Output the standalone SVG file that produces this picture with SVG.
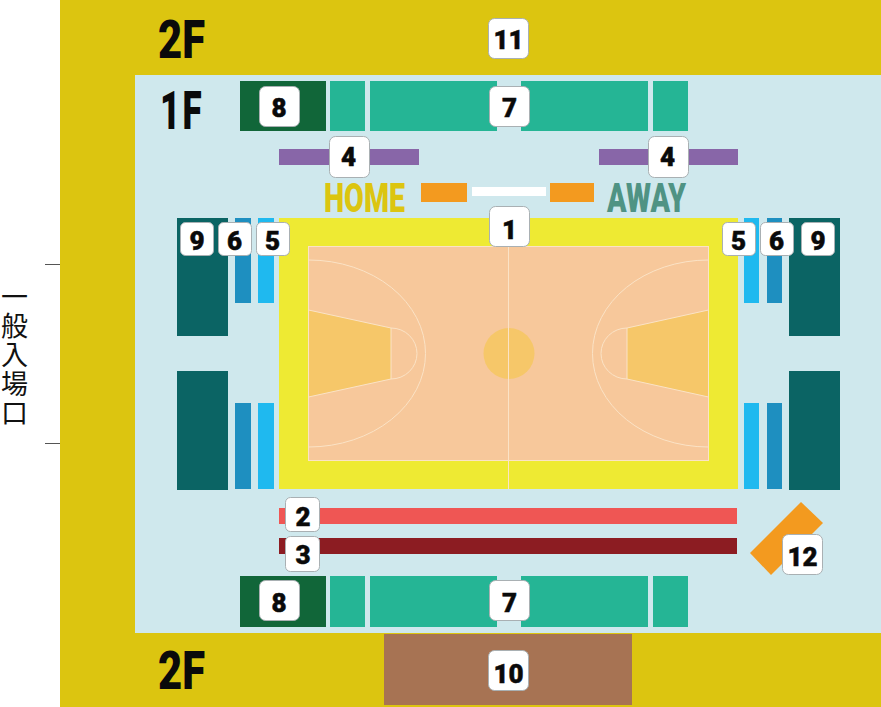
<svg xmlns="http://www.w3.org/2000/svg" width="881" height="707" viewBox="0 0 881 707">
<style>
.b{fill:#fff;stroke:#a9b0b3;stroke-width:1}
.n{font-family:"Roboto","Liberation Sans",sans-serif;font-weight:900;fill:#0a0a0a;stroke:#0a0a0a;stroke-width:.5;text-anchor:middle;font-size:26px}
.f{font-family:"Roboto","Liberation Sans",sans-serif;font-weight:900;fill:#0a0a0a;font-size:53px}
.t{fill:#25b595}.d{fill:#116639}.p{fill:#8866a8}.o{fill:#f39a1f}.s{fill:#0b6464}.c{fill:#1e8fc0}.l{fill:#1fb9ef}
.m{fill:none;stroke:#fbe3c6;stroke-width:1}
.j{font-family:"Noto Sans CJK JP",sans-serif;font-size:27px;fill:#111;writing-mode:vertical-rl;letter-spacing:2px}
</style>
<rect id="floor2" x="60" y="0" width="821" height="707" fill="#dcc510"/>
<rect id="floor1" x="135" y="75" width="746" height="558" fill="#cfe8ed"/>
<g id="entrance-marks" stroke="#555" stroke-width="1"><path d="M45 264.500H60M45 443.500H60"/></g>
<text id="entrance" class="j" x="14.500" y="283.500">一般入場口</text>
<g id="seats-top">
<rect class="d" x="240" y="81" width="86" height="50"/><rect class="t" x="330" y="81" width="35" height="50"/><rect class="t" x="370" y="81" width="127" height="50"/><rect class="t" x="521" y="81" width="127" height="50"/><rect class="t" x="653" y="81" width="35" height="50"/>
</g>
<g id="seats-bottom">
<rect class="d" x="240" y="576" width="86" height="51"/><rect class="t" x="330" y="576" width="35" height="51"/><rect class="t" x="370" y="576" width="127" height="51"/><rect class="t" x="521" y="576" width="127" height="51"/><rect class="t" x="653" y="576" width="35" height="51"/>
</g>
<g id="purple"><rect class="p" x="279" y="149" width="140" height="16"/><rect class="p" x="599" y="149" width="139" height="16"/></g>
<g id="bench"><rect class="o" x="421" y="183" width="46" height="19"/><rect x="472" y="187" width="74" height="9" fill="#fff"/><rect class="o" x="550" y="183" width="44" height="19"/></g>
<text id="home" x="324" y="212" font-family="'Roboto',sans-serif" font-weight="900" font-size="41" fill="#dcc510" textLength="81" lengthAdjust="spacingAndGlyphs">HOME</text>
<text id="away" x="607" y="212" font-family="'Roboto',sans-serif" font-weight="900" font-size="41" fill="#4f9384" textLength="79" lengthAdjust="spacingAndGlyphs">AWAY</text>
<g id="side-left"><rect class="s" x="177" y="218" width="51" height="118"/><rect class="s" x="177" y="371" width="51" height="119"/><rect class="c" x="235" y="218" width="16" height="85"/><rect class="c" x="235" y="403" width="16" height="86"/><rect class="l" x="258" y="218" width="16" height="85"/><rect class="l" x="258" y="403" width="16" height="86"/></g>
<g id="side-right"><rect class="l" x="744" y="218" width="15" height="85"/><rect class="l" x="744" y="403" width="15" height="86"/><rect class="c" x="767" y="218" width="15" height="85"/><rect class="c" x="767" y="403" width="15" height="86"/><rect class="s" x="789" y="218" width="51" height="118"/><rect class="s" x="789" y="371" width="51" height="119"/></g>
<g id="court">
<rect x="279" y="218" width="459" height="271" fill="#eeea33"/>
<rect x="308.500" y="246.500" width="400" height="214" fill="#f7c89b" stroke="#fbe3c6"/>
<path d="M308.500 310L391 328V379L308.500 397Z" fill="#f6c769" stroke="#fbe3c6"/>
<path d="M627 328L708.500 310V397L627 379Z" fill="#f6c769" stroke="#fbe3c6"/>
<circle cx="509" cy="353.500" r="25.500" fill="#f6c769"/>
<path class="m" d="M508.500 218V489"/>
<path class="m" d="M391 328A26 25.500 0 0 1 391 379"/>
<path class="m" d="M627 328A26 25.500 0 0 0 627 379"/>
<path class="m" d="M308.500 260A117 93.500 0 0 1 308.500 447"/>
<path class="m" d="M708.500 260A116 93.500 0 0 0 708.500 447"/>
</g>
<g id="bars"><rect x="279" y="508" width="458" height="16" fill="#ef5654"/><rect x="279" y="538" width="458" height="16" fill="#8c1c22"/></g>
<polygon id="zone12" class="o" points="801,502 823,523 771,575 750,553"/>
<rect id="zone10" x="384" y="634" width="248" height="71" fill="#a77353"/>
<text id="label-2f-top" class="f" x="158" y="58" textLength="47" lengthAdjust="spacingAndGlyphs">2F</text>
<text id="label-1f" class="f" transform="translate(160 129) scale(.66 1)" x="0 34" y="0">1F</text>
<text id="label-2f-bottom" class="f" x="158" y="689" textLength="47" lengthAdjust="spacingAndGlyphs">2F</text>
<g id="n11"><rect class="b" x="488.500" y="18.500" width="40" height="40" rx="6"/><text class="n" x="508.500" y="49">11</text></g>
<g id="n8a"><rect class="b" x="259.500" y="86.500" width="40" height="40" rx="6"/><text class="n" x="279" y="117">8</text></g>
<g id="n7a"><rect class="b" x="489.500" y="86.500" width="40" height="40" rx="6"/><text class="n" x="509.500" y="117">7</text></g>
<g id="n4a"><rect class="b" x="329.500" y="136.500" width="40" height="41" rx="6"/><text class="n" x="348.500" y="166">4</text></g>
<g id="n4b"><rect class="b" x="648.500" y="136.500" width="40" height="41" rx="6"/><text class="n" x="667.500" y="166">4</text></g>
<g id="n1"><rect class="b" x="489.500" y="206.500" width="40" height="40" rx="6"/><text class="n" x="509.500" y="239">1</text></g>
<g id="n9a"><rect class="b" x="180.500" y="222.500" width="33" height="33" rx="5"/><text class="n" x="197" y="250">9</text></g>
<g id="n6a"><rect class="b" x="218.500" y="222.500" width="33" height="33" rx="5"/><text class="n" x="234.500" y="250">6</text></g>
<g id="n5a"><rect class="b" x="256.500" y="222.500" width="33" height="33" rx="5"/><text class="n" x="272.500" y="250">5</text></g>
<g id="n5b"><rect class="b" x="722.500" y="222.500" width="33" height="33" rx="5"/><text class="n" x="738.500" y="250">5</text></g>
<g id="n6b"><rect class="b" x="760.500" y="222.500" width="33" height="33" rx="5"/><text class="n" x="776.500" y="250">6</text></g>
<g id="n9b"><rect class="b" x="801.500" y="222.500" width="33" height="33" rx="5"/><text class="n" x="818" y="250">9</text></g>
<g id="n2"><rect class="b" x="285.500" y="497.500" width="34" height="34" rx="5"/><text class="n" x="303" y="526">2</text></g>
<g id="n3"><rect class="b" x="285.500" y="536.500" width="34" height="35" rx="5"/><text class="n" x="303" y="564">3</text></g>
<g id="n8b"><rect class="b" x="259.500" y="580.500" width="40" height="40" rx="6"/><text class="n" x="279" y="612">8</text></g>
<g id="n7b"><rect class="b" x="489.500" y="580.500" width="40" height="40" rx="6"/><text class="n" x="509.500" y="612">7</text></g>
<g id="n10"><rect class="b" x="488.500" y="650.500" width="40" height="40" rx="6"/><text class="n" x="508.500" y="683">10</text></g>
<g id="n12"><rect class="b" x="782.500" y="534.500" width="40" height="40" rx="6"/><text class="n" x="802.500" y="566">12</text></g>
</svg>
